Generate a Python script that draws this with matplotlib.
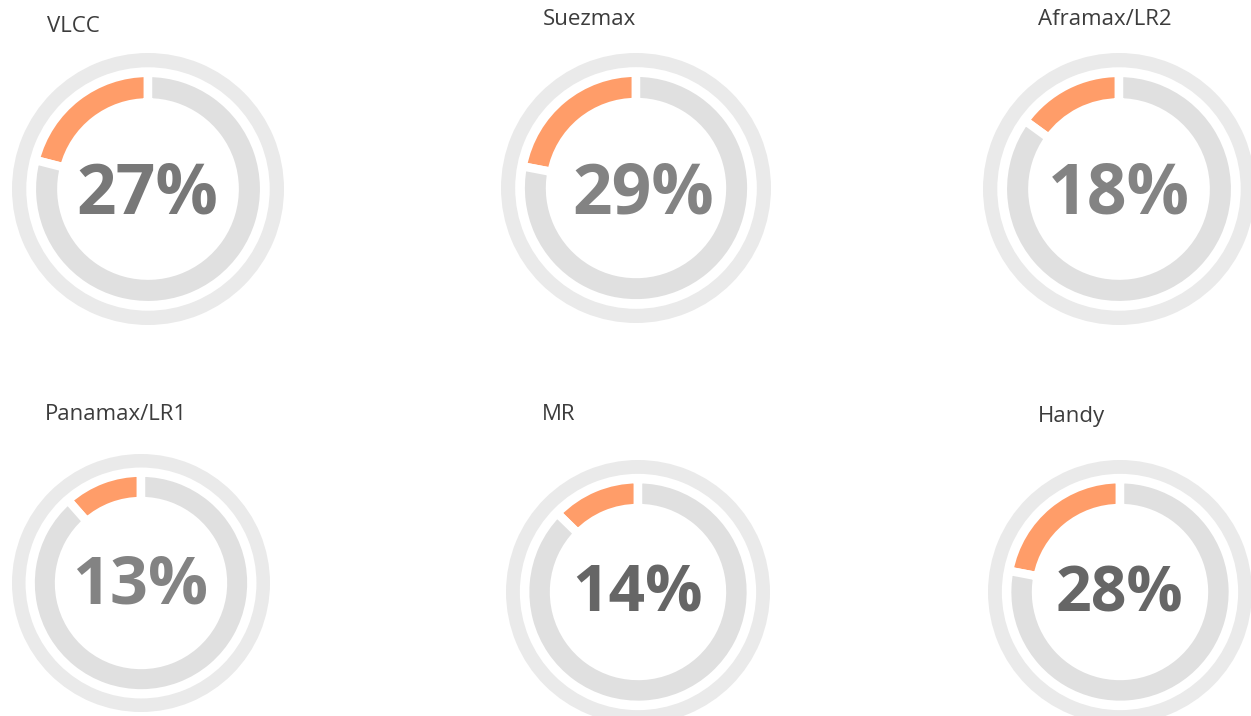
import matplotlib.pyplot as plt

names = ['VLCC', 'Suezmax', 'Aframax/LR2', 'Panamax/LR1', 'MR', 'Handy']
shares = [27, 29, 18, 13, 14, 28]
arc_shares = [21, 22, 15, 11.5, 12.7, 22]

# layout in pixels (centre of each donut, outer radius)
W, H = 1251, 716
cx = [148, 636, 1119, 141, 638, 1120]
cy = [189, 188, 189, 583, 592, 592]
radius = [136, 135, 136, 129, 132, 132]
title_xy = [(47, 32), (543, 25), (1038, 25), (45, 420), (542, 420), (1038, 422)]
label_dx = [-1, 7, 0, -1, 0, -1]
label_dy = [24, 25, 24, 20, 20, 20]
label_size = [50, 50, 50, 48, 46, 45]
label_color = ['#787878', '#838383', '#838383', '#838383', '#666666', '#666666']

orange = '#ff9d69'
ring_gray = '#e0e0e0'
outer_gray = '#eaeaea'
gap_px = 8.5

fig = plt.figure(figsize=(W / 100, H / 100), dpi=100)

for i, name in enumerate(names):
    R = radius[i]
    half = R * 1.1
    ax = fig.add_axes([(cx[i] - half) / W, 1 - (cy[i] + half) / H, 2 * half / W, 2 * half / H])

    # inner ring: orange arc, rest in gray, white strokes make the gaps
    ax.pie([arc_shares[i], 100 - arc_shares[i]], radius=0.823 * R + gap_px / 2,
           startangle=90, counterclock=True, colors=[orange, ring_gray],
           wedgeprops=dict(width=0.155 * R + gap_px, edgecolor='white',
                           linewidth=gap_px * 0.72))
    # thin outer ring
    ax.pie([1], radius=R, colors=[outer_gray],
           wedgeprops=dict(width=0.105 * R, linewidth=0))

    ax.set_xlim(-half, half)
    ax.set_ylim(-half, half)
    ax.axis('off')

    ax.text(label_dx[i], -label_dy[i], f'{shares[i]}%', ha='center', va='baseline',
            fontsize=label_size[i], fontweight='bold', family='Open Sans',
            color=label_color[i])

    tx, ty = title_xy[i]
    fig.text(tx / W, 1 - ty / H, name, ha='left', va='baseline',
             fontsize=16, family='Open Sans', color='#3c3c3c')

plt.savefig('out.png', dpi=100)
